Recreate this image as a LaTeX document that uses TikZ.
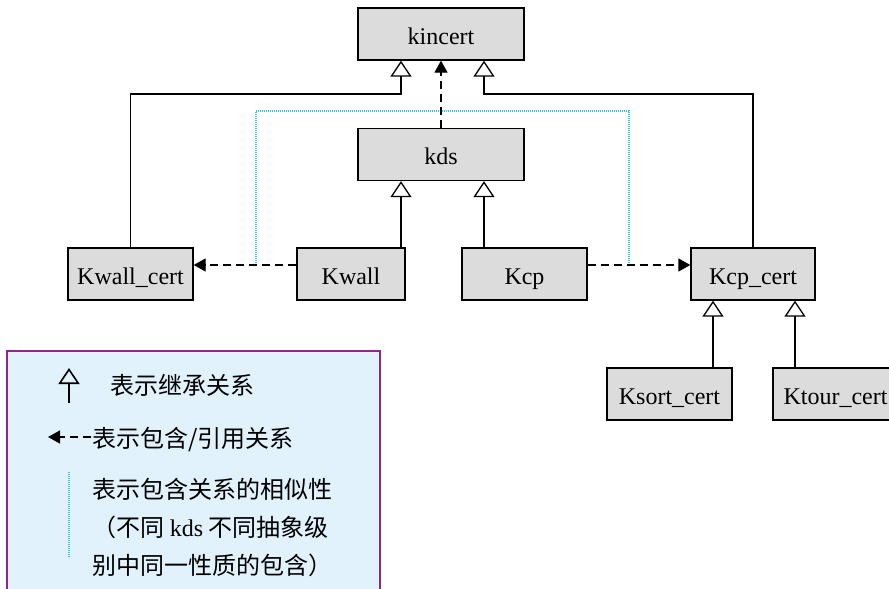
\documentclass[tikz,border=0pt]{standalone}
\usepackage{fontspec}
\setmainfont{Liberation Serif}
\newfontfamily\cjk{Noto Sans CJK SC}
\usetikzlibrary{arrows.meta,positioning}
\definecolor{boxgray}{RGB}{220,220,220}
\definecolor{dotcyan}{RGB}{40,200,235}
\definecolor{notefill}{RGB}{225,242,253}
\definecolor{noteline}{RGB}{140,40,140}

\begin{document}
\begin{tikzpicture}[x=0.5pt, y=-0.5pt, font=\fontsize{12}{14}\selectfont,
    classbox/.style={draw, line width=0.65pt, fill=boxgray, text height=18pt, text depth=8pt, inner sep=0pt},
    inherit/.style={line width=0.65pt, -{Triangle[open, width=10.5pt, length=8pt]}},
    contain/.style={line width=0.65pt, dash pattern=on 4pt off 2.5pt, -{Triangle[width=6.5pt, length=6pt]}},
    similar/.style={dotcyan, line width=0.6pt, dash pattern=on 0.5pt off 0.5pt},
    notetext/.style={anchor=west, font=\cjk\fontsize{12}{19}\selectfont, align=left, inner sep=0pt}]
        \useasboundingbox (0,0) rectangle (889,589);
        % classes
        \foreach \name/\x/\y/\w/\txt in {kincert/441/34/83pt/kincert, kds/441/154.5/83pt/kds,
            kwallcert/130.5/274/62.5pt/Kwall\_cert, kwall/351/274/54pt/Kwall, kcp/524.5/274/62.5pt/Kcp,
            kcpcert/753/274/62pt/Kcp\_cert, ksortcert/669.5/394/62.5pt/Ksort\_cert, ktourcert/835.5/394/62.5pt/Ktour\_cert}
            {\node[classbox, minimum width=\w] (\name) at (\x,\y) {\txt};}
        % similarity of containment
        \draw[similar] (256,265) |- (629,111) -- (629,265);
        % inheritance
        \draw[inherit] (kwallcert.north) -- (kwallcert.north |- 0,94) -| ([xshift=-20pt]kincert.south);
        \draw[inherit] (kcpcert.north) -- (kcpcert.north |- 0,94) -| ([xshift=21.5pt]kincert.south);
        \draw[inherit] ([xshift=-20pt]kds.south |- kwall.north) -- ([xshift=-20pt]kds.south);
        \draw[inherit] ([xshift=21.5pt]kds.south |- kcp.north) -- ([xshift=21.5pt]kds.south);
        \draw[inherit] ([xshift=-20pt]kcpcert.south |- ksortcert.north) -- ([xshift=-20pt]kcpcert.south);
        \draw[inherit] ([xshift=21pt]kcpcert.south |- ktourcert.north) -- ([xshift=21pt]kcpcert.south);
        % containment / reference
        \draw[contain] (kds.north) -- (kincert.south);
        \draw[contain] ([yshift=4.5pt]kwall.west) -- ([yshift=4.5pt]kwallcert.east);
        \draw[contain] ([yshift=4.5pt]kcp.east) -- ([yshift=4.5pt]kcpcert.west);
        % legend
        \draw[noteline, fill=notefill, line width=0.8pt] (7,351) rectangle (380,600);
        \coordinate (inhbase) at (69,403);
        \coordinate (inhtip) at (69,368);
        \draw[inherit, line width=0.8pt] (inhbase) -- (inhtip);
        \node[notetext] (inhtext) at (110,385) {表示继承关系};
        \coordinate (conend) at (91,437);
        \coordinate (contip) at (48,437);
        \draw[contain, line width=0.8pt] (conend) -- (contip);
        \node[notetext] (context) at (92,440) {表示包含/引用关系};
        \draw[similar] (69,472) -- (69,558);
        \node[notetext] (simtext) at (92,528) {表示包含关系的相似性\\（不同 {\rmfamily kds} 不同抽象级\\别中同一性质的包含）};
\end{tikzpicture}
\end{document}
